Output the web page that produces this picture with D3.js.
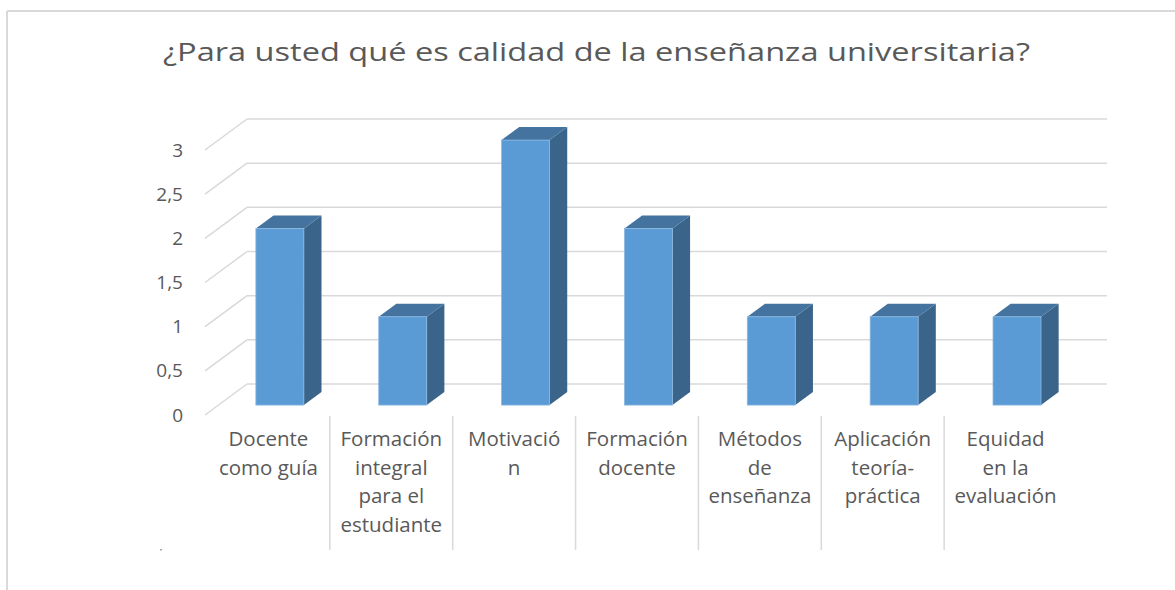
<!DOCTYPE html>
<html>
<head>
<meta charset="utf-8">
<script src="https://cdn.jsdelivr.net/npm/d3@7"></script>
<style>
  body { margin: 0; background: #fff; }
  text { font-family: "Open Sans", sans-serif; fill: #595959; }
</style>
</head>
<body>
<div></div>
<script>
// datos
var categorias = ["Docente como guía", "Formación integral para el estudiante", "Motivación",
    "Formación docente", "Métodos de enseñanza", "Aplicación teoría-práctica", "Equidad en la evaluación"];
var etiquetas = [
    ["Docente", "como guía"],
    ["Formación", "integral", "para el", "estudiante"],
    ["Motivació", "n"],
    ["Formación", "docente"],
    ["Métodos", "de", "enseñanza"],
    ["Aplicación", "teoría-", "práctica"],
    ["Equidad", "en la", "evaluación"]
];
var valores = [2, 1, 3, 2, 1, 1, 1];
var ticks = [0, 0.5, 1, 1.5, 2, 2.5, 3];
var tickLabels = ["0", "0,5", "1", "1,5", "2", "2,5", "3"];
var titulo = "¿Para usted qué es calidad de la enseñanza universitaria?";

var width = 1175;
var height = 590;

// profundidad del 3D
var depthX = 42;
var depthY = -31;
var barFront = 0.32;
var barBack = 0.74;

var svg = d3.select('div')
    .append('svg')
    .attr('width', width)
    .attr('height', height);

// borde del gráfico
svg.append('line')
    .attr('x1', 7).attr('y1', 11).attr('x2', width).attr('y2', 11)
    .attr('stroke', '#d9d9d9').attr('stroke-width', 2);
svg.append('line')
    .attr('x1', 7).attr('y1', 11).attr('x2', 7).attr('y2', height)
    .attr('stroke', '#d9d9d9').attr('stroke-width', 2);

// título
svg.append('text')
    .attr('x', 163)
    .attr('y', 61)
    .attr('textLength', 867)
    .attr('lengthAdjust', 'spacingAndGlyphs')
    .style('font-size', '26px')
    .text(titulo);

var xscale = d3.scaleBand()
    .domain(categorias)
    .range([205, 1065])
    .padding(0);

var yscale = d3.scaleLinear()
    .domain([0, 3])
    .range([415, 150]);

// rejilla: pared del fondo y pared lateral
var grid = svg.append('g');
ticks.forEach(function(t) {
    grid.append('line')
        .attr('x1', 205 + depthX).attr('y1', yscale(t) + depthY)
        .attr('x2', 1065 + depthX).attr('y2', yscale(t) + depthY)
        .attr('stroke', '#d9d9d9').attr('stroke-width', 1.5);
    grid.append('line')
        .attr('x1', 205).attr('y1', yscale(t))
        .attr('x2', 205 + depthX).attr('y2', yscale(t) + depthY)
        .attr('stroke', '#d9d9d9').attr('stroke-width', 1.5);
});

// eje Y
svg.append('g')
    .selectAll('text')
    .data(ticks)
    .enter()
    .append('text')
    .attr('x', 183)
    .attr('y', d => yscale(d))
    .attr('dy', '0.35em')
    .attr('text-anchor', 'end')
    .style('font-size', '19px')
    .text((d, i) => tickLabels[i]);

// barras 3D
var barW = 48;
var fx = depthX * barFront, fy = depthY * barFront;
var bx = depthX * barBack, by = depthY * barBack;

var bars = svg.selectAll('.bar')
    .data(valores)
    .enter()
    .append('g')
    .attr('class', 'bar');

function left(d, i) { return xscale(categorias[i]) + (xscale.bandwidth() - barW) / 2 + fx; }

// lado
bars.append('path')
    .attr('d', function(d, i) {
        var x0 = left(d, i) + barW;
        var yt = yscale(d) + fy, yb = yscale(0) + fy;
        var ddx = bx - fx, ddy = by - fy;
        return 'M' + x0 + ',' + yt + 'L' + (x0 + ddx) + ',' + (yt + ddy) +
            'L' + (x0 + ddx) + ',' + (yb + ddy) + 'L' + x0 + ',' + yb + 'Z';
    })
    .attr('fill', '#3a6489');

// tapa
bars.append('path')
    .attr('d', function(d, i) {
        var x0 = left(d, i);
        var yt = yscale(d) + fy;
        var ddx = bx - fx, ddy = by - fy;
        return 'M' + x0 + ',' + yt + 'L' + (x0 + ddx) + ',' + (yt + ddy) +
            'L' + (x0 + barW + ddx) + ',' + (yt + ddy) + 'L' + (x0 + barW) + ',' + yt + 'Z';
    })
    .attr('fill', '#44739f');

// frente
bars.append('rect')
    .attr('x', left)
    .attr('y', d => yscale(d) + fy)
    .attr('width', barW)
    .attr('height', d => yscale(0) - yscale(d))
    .attr('fill', '#5b9bd5')
    .attr('stroke', '#8cb8e2')
    .attr('stroke-width', 0.8);

// separadores de categorías
svg.append('g')
    .selectAll('line')
    .data(categorias.slice(1))
    .enter()
    .append('line')
    .attr('x1', d => xscale(d) + 2)
    .attr('x2', d => xscale(d) + 2)
    .attr('y1', 416)
    .attr('y2', 550)
    .attr('stroke', '#d9d9d9')
    .attr('stroke-width', 1.5);

// marca suelta abajo a la izquierda
svg.append('rect')
    .attr('x', 160).attr('y', 549).attr('width', 2).attr('height', 1.5)
    .attr('fill', '#a6a6a6');

// etiquetas de categorías
var labels = svg.append('g')
    .selectAll('text')
    .data(etiquetas)
    .enter()
    .append('text')
    .attr('text-anchor', 'middle')
    .style('font-size', '20.5px');

labels.selectAll('tspan')
    .data((d, i) => d.map(function(line) { return {line: line, i: i}; }))
    .enter()
    .append('tspan')
    .attr('x', d => xscale(categorias[d.i]) + xscale.bandwidth() / 2 + 2)
    .attr('y', (d, j) => 446 + j * 28.5)
    .text(d => d.line);
</script>
</body>
</html>
